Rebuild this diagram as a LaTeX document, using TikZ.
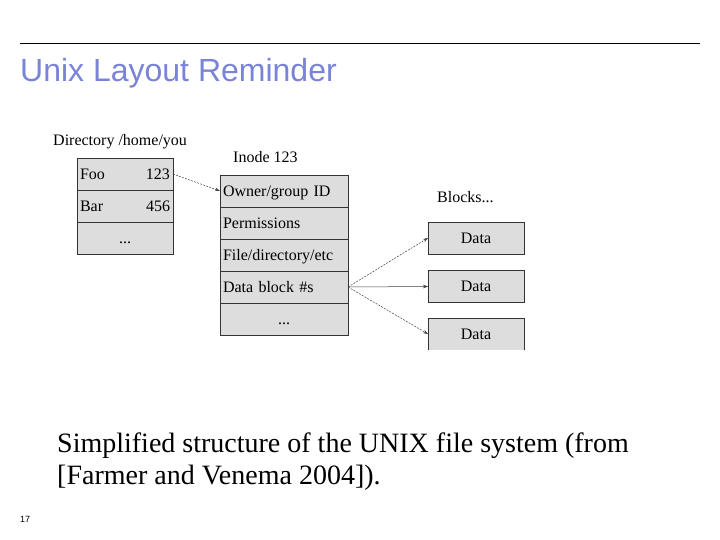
\documentclass[tikz,border=0pt]{standalone}
\usepackage{fontspec}
\setmainfont{Liberation Serif}
\newfontfamily\slidefont{Liberation Sans}
\usetikzlibrary{positioning,arrows.meta}
\definecolor{titleblue}{RGB}{122,132,214}
\definecolor{cellgray}{RGB}{221,221,221}

\begin{document}
\begin{tikzpicture}[
    x=1pt, y=-1pt,
    node distance=0pt,
    cell/.style={rectangle, draw=black!80, fill=cellgray, line width=0.8pt, inner sep=3pt, outer sep=0pt, text height=10.5pt, text depth=0pt, font=\fontsize{16}{18}\selectfont},
    dircell/.style={cell, text width=90pt, minimum height=32pt, align=left},
    inocell/.style={cell, text width=122pt, minimum height=32pt, align=left},
    datacell/.style={cell, minimum width=96pt, minimum height=32pt, align=center},
    label/.style={inner sep=0pt, font=\fontsize{16}{18}\selectfont},
    ptr/.style={-{Stealth[length=5pt, width=3.5pt]}, line width=0.5pt, black!75, dash pattern=on 2pt off 1.2pt},
]
\useasboundingbox (0,0) rectangle (720,540);
\fill[white] (0,0) rectangle (720,540);

% slide header
\draw[line width=0.9pt] (20,43) -- (700,43);
\node[anchor=base west, inner sep=0pt, text=titleblue, font=\slidefont\fontsize{32}{36}\selectfont] (title) at (20,82) {Unix Layout Reminder};

% directory
\node[label, anchor=base west] (dirlabel) at (53,146) {Directory /home/you};
\node[dircell, anchor=north west] (foo) at (77,158) {Foo\hfill 123};
\node[dircell, below=of foo] (bar) {Bar\hfill 456};
\node[dircell, below=of bar, align=center] (dirmore) {...};

% inode
\node[label, anchor=base west] (inolabel) at (233,163) {Inode 123};
\node[inocell, anchor=north west] (owner) at (220,175) {Owner/group ID};
\node[inocell, below=of owner] (perm) {Permissions};
\node[inocell, below=of perm] (ftype) {File/directory/etc};
\node[inocell, below=of ftype] (blknums) {Data block \#s};
\node[inocell, below=of blknums, align=center] (inomore) {...};

% data blocks (last one cut off at the bottom)
\node[label, anchor=base west] (blklabel) at (437,203) {Blocks...};
\node[datacell, anchor=north west] (data1) at (428,222) {Data};
\node[datacell, anchor=north west] (data2) at (428,270.5) {Data};
\node[datacell, anchor=north west, draw=none, minimum height=31pt] (data3) at (428,318.5) {Data};
\draw[black!80, line width=0.8pt] (data3.south west) |- (data3.north east) -- (data3.south east);

\draw[ptr] (foo.east) -- (owner.west);
\draw[ptr] (blknums.east) -- (data1.west);
\draw[ptr, dash pattern=] (blknums.east) -- (data2.west);
\draw[ptr] (blknums.east) -- (data3.west);

% caption
\node[anchor=base west, inner sep=0pt, align=left, font=\fontsize{28}{32}\selectfont] (caption) at (57,484) {Simplified structure of the UNIX file system (from\\{}[Farmer and Venema 2004]).};
\node[anchor=base west, inner sep=0pt, font=\slidefont\fontsize{9}{10}\selectfont] (pageno) at (20,522) {17};
\end{tikzpicture}
\end{document}
